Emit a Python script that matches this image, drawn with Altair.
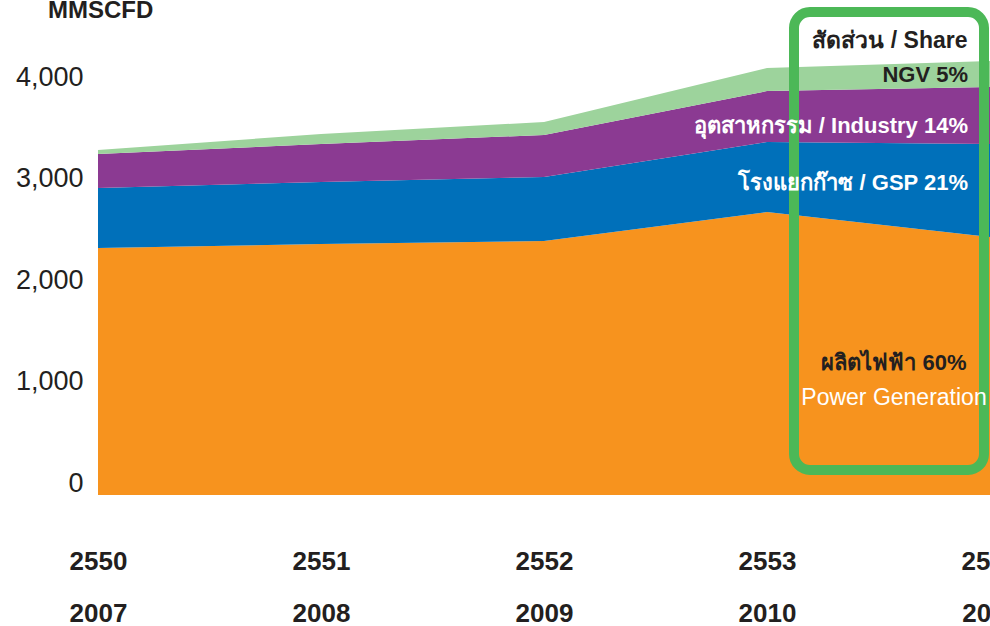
import altair as alt
import pandas as pd

years_be = [2550, 2551, 2552, 2553, 2554]
power = [2433, 2473, 2502, 2788, 2542]
gsp = [591, 611, 631, 690, 916]
industry = [335, 374, 414, 502, 562]
ngv = [39, 99, 128, 227, 256]

series_names = ["Power", "GSP", "Industry", "NGV"]
series_vals = [power, gsp, industry, ngv]
series_colors = ["#F7931E", "#0070BA", "#8B3A92", "#9DD39C"]

y_ticks = [0, 1000, 2000, 3000, 4000]

rows = []
for k, (name, vals) in enumerate(zip(series_names, series_vals)):
    for yr, v in zip(years_be, vals):
        rows.append({"year": yr, "value": v, "series": name, "order": k})
df = pd.DataFrame(rows)

W, H = 892, 495

area = alt.Chart(df).mark_area(interpolate="linear").encode(
    x=alt.X("year:Q", scale=alt.Scale(domain=[2550, 2554], nice=False),
            axis=alt.Axis(values=years_be, title=None, domain=False, ticks=False, grid=False,
                          labelExpr="[toString(datum.value), toString(datum.value - 543)]",
                          labelFont="Liberation Sans", labelFontWeight="bold", labelFontSize=26,
                          labelColor="#231F20", labelLineHeight=52, labelBaseline="top",
                          labelPadding=53, labelOverlap=False, labelBound=False, labelFlush=False)),
    y=alt.Y("value:Q", stack="zero", scale=alt.Scale(domain=[0, 4877], nice=False),
            axis=alt.Axis(values=y_ticks, title=None, domain=False, ticks=False, grid=False,
                          format=",d", labelFont="Liberation Sans", labelFontSize=27,
                          labelColor="#231F20", labelBaseline="alphabetic", labelOffset=-4,
                          labelPadding=15)),
    color=alt.Color("series:N", scale=alt.Scale(domain=series_names, range=series_colors), legend=None),
    order=alt.Order("order:Q"),
)

one = pd.DataFrame({"a": [0]})

box = alt.Chart(one).mark_rect(filled=False, stroke="#4CB857", strokeWidth=10, cornerRadius=16).encode(
    x=alt.value(696), x2=alt.value(886), y=alt.value(12), y2=alt.value(470)
)

ann_text = ["สัดส่วน / Share", "NGV 5%", "อุตสาหกรรม / Industry 14%", "โรงแยกก๊าซ / GSP 21%",
            "ผลิตไฟฟ้า 60%", "Power Generation"]
ann_x = [792, 870, 870, 870, 796, 796]
ann_y = [48, 82, 133, 190, 370, 405]
ann_size = [23, 22, 22, 22, 22, 23]
ann_align = ["center", "right", "right", "right", "center", "center"]
ann_color = ["#231F20", "#231F20", "#FFFFFF", "#FFFFFF", "#231F20", "#FFFFFF"]
ann_weight = ["bold", "bold", "bold", "bold", "bold", "normal"]

layers = [area, box]
for t, x, y, s, al, c, w in zip(ann_text, ann_x, ann_y, ann_size, ann_align, ann_color, ann_weight):
    layers.append(alt.Chart(one).mark_text(text=t, align=al, baseline="alphabetic", fontSize=s,
                                           font="Liberation Sans", fontWeight=w, color=c).encode(
        x=alt.value(x), y=alt.value(y)))

layers.append(alt.Chart(one).mark_text(text="MMSCFD", align="left", baseline="alphabetic", fontSize=24,
                                       font="Liberation Sans", fontWeight="bold", color="#231F20").encode(
    x=alt.value(-50), y=alt.value(18)))

chart = alt.layer(*layers).properties(
    width=W, height=H,
    background="white",
    autosize=alt.AutoSizeParams(type="none"),
    padding={"left": 98, "top": 0, "right": 0, "bottom": 131},
).configure_view(stroke="transparent", strokeWidth=0)

chart.save("out.html", embed_options={"renderer": "svg", "actions": False})
